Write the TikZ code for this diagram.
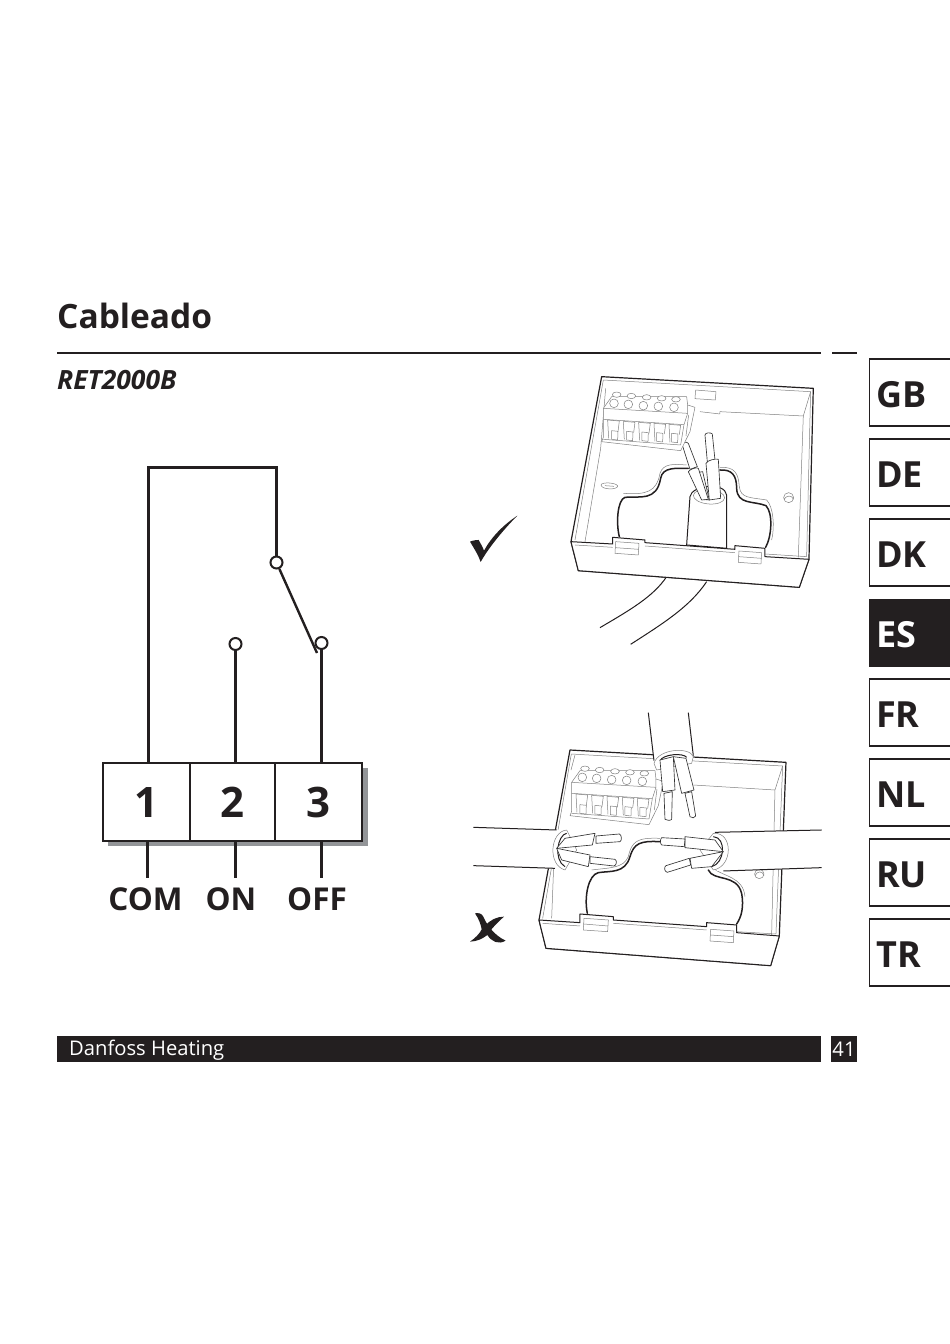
\documentclass[tikz,border=0pt]{standalone}
\usepackage{fontspec}
\setmainfont{Open Sans}
\usepackage{xcolor}
\definecolor{inkdark}{HTML}{231F20}
\definecolor{shadowgray}{HTML}{939598}
\tikzset{
  wireline/.style={inkdark,line width=2.4pt},
  tabline/.style={inkdark,line width=1.6pt},
  tablabel/.style={inkdark,font=\bfseries\fontsize{36}{36}\selectfont,anchor=west,inner sep=0pt},
  termbox/.style={draw=inkdark,line width=2.4pt,fill=white,minimum height=78pt,inner sep=0pt,text=inkdark,font=\bfseries\fontsize{42}{42}\selectfont},
  contact/.style={circle,draw=inkdark,line width=2pt,fill=white,minimum size=12pt,inner sep=0pt},
  outline/.style={inkdark,line width=1pt,line join=round},
  thinline/.style={black!50,line width=0.5pt,line join=round},
  holeline/.style={inkdark,line width=1.5pt,line cap=round},
  wirepart/.style={black!80,line width=0.65pt,fill=white,line join=round}
}
% same connector block in both boxes, written in crop coordinates
\newcommand{\termblock}{
\draw [thinline,fill=white] (430,145) -- (455,110) -- (680,110) -- (683,135) -- (705,142) -- (690,215) -- (662,272) -- (425,245) -- (430,232) -- cycle;
\draw [thinline,fill=white] (470,104) ellipse (13 and 8);
\draw [thinline,fill=white] (514,108) ellipse (13 and 8);
\draw [thinline,fill=white] (560,112) ellipse (13 and 8);
\draw [thinline,fill=white] (605,115) ellipse (13 and 8);
\draw [thinline,fill=white] (648,118) ellipse (13 and 8);
\draw [thinline] (462,130) circle (13);
\draw [thinline] (505,133) circle (13);
\draw [thinline] (550,137) circle (13);
\draw [thinline] (595,139) circle (13);
\draw [thinline] (642,142) circle (13);
\draw [thinline] (430,145) -- (683,160) -- (683,135);
\draw [thinline] (430,178) -- (672,194) -- (662,255) -- (430,238);
\draw [thinline] (683,160) -- (672,194);
\draw [thinline] (686,165) -- (678,228);
\draw [thinline] (443,180) -- (478,183) -- (474,215);
\draw [thinline] (443,180) -- (446,235);
\draw [thinline] (490,184) -- (525,187) -- (521,218);
\draw [thinline] (490,184) -- (493,238);
\draw [thinline] (536,187) -- (571,190) -- (567,220);
\draw [thinline] (536,187) -- (539,241);
\draw [thinline] (582,190) -- (617,193) -- (613,222);
\draw [thinline] (582,190) -- (585,244);
\draw [thinline] (627,193) -- (662,196) -- (658,224);
\draw [thinline] (627,193) -- (630,247);
\draw [thinline,fill=white] (455,212) -- (474,214) -- (473,240) -- (455,238) -- cycle;
\draw [thinline,fill=white] (500,214) -- (519,216) -- (518,242) -- (500,240) -- cycle;
\draw [thinline,fill=white] (546,216) -- (565,218) -- (564,244) -- (546,242) -- cycle;
\draw [thinline,fill=white] (590,218) -- (609,220) -- (608,246) -- (590,244) -- cycle;
\draw [thinline,fill=white] (635,220) -- (654,222) -- (653,248) -- (635,246) -- cycle;
}

\begin{document}
\begin{tikzpicture}[x=1pt,y=-1pt]
\useasboundingbox (0,0) rectangle (950,1344);
% page heading
\draw (57,316) node (heading) [anchor=west,inner sep=0pt,inkdark,font=\bfseries\fontsize{33.5}{33.5}\selectfont] {Cableado};
\draw [inkdark,line width=2pt] (57,352.5) -- (821,352.5);
\draw [inkdark,line width=2pt] (832,352.5) -- (857,352.5);
\draw (57,380) node (model) [anchor=west,inner sep=0pt,inkdark,font=\bfseries\itshape\fontsize{26.5}{26.5}\selectfont] {RET2000B};
% wiring scheme
\fill [shadowgray] (108,768) rectangle (367.5,845.5);
\node (t1) [termbox,minimum width=87pt] at (146.5,802) {1};
\node (t2) [termbox,minimum width=85pt] at (232.5,802) {2};
\node (t3) [termbox,minimum width=87pt] at (318.5,802) {3};
\node (comcontact) [contact] at (276.5,562.5) {};
\node (oncontact) [contact] at (235.5,644) {};
\node (offcontact) [contact] at (321.5,643) {};
\coordinate (topleft) at (148.5,467.5);
\coordinate (bladeend) at (317,653);
\coordinate (comend) at (147.5,877.5);
\coordinate (onend) at (235.5,877.5);
\coordinate (offend) at (321.5,877.5);
\draw [wireline] (comcontact) -- (comcontact |- topleft) -- (topleft) -- (topleft |- t1.north);
\draw [wireline] (comcontact) -- (bladeend);
\draw [wireline] (oncontact) -- (oncontact |- t2.north);
\draw [wireline] (offcontact) -- (offcontact |- t3.north);
\draw [wireline] (comend |- t1.south) -- (comend);
\draw [wireline] (onend |- t2.south) -- (onend);
\draw [wireline] (offend |- t3.south) -- (offend);
\node (comlabel) [inkdark,inner sep=0pt,font=\bfseries\fontsize{31.5}{31.5}\selectfont] at (145.5,899) {COM};
\node (onlabel) [inkdark,inner sep=0pt,font=\bfseries\fontsize{31.5}{31.5}\selectfont] at (231,899) {ON};
\node (offlabel) [inkdark,inner sep=0pt,font=\bfseries\fontsize{31.5}{31.5}\selectfont] at (317,899) {OFF};
% language tabs
\draw [tabline] (950,359) -- (869.5,359) -- (869.5,426) -- (950,426);
\draw (876,395) node (tabgb) [tablabel] {GB};
\draw [tabline] (950,439) -- (869.5,439) -- (869.5,506) -- (950,506);
\draw (876,475) node (tabde) [tablabel] {DE};
\draw [tabline] (950,519) -- (869.5,519) -- (869.5,586) -- (950,586);
\draw (876,555) node (tabdk) [tablabel] {DK};
\fill [inkdark] (869,599) rectangle (950,667);
\draw (876,635) node (tabes) [tablabel,text=white] {ES};
\draw [tabline] (950,679) -- (869.5,679) -- (869.5,746) -- (950,746);
\draw (876,715) node (tabfr) [tablabel] {FR};
\draw [tabline] (950,759) -- (869.5,759) -- (869.5,826) -- (950,826);
\draw (876,795) node (tabnl) [tablabel] {NL};
\draw [tabline] (950,839) -- (869.5,839) -- (869.5,906) -- (950,906);
\draw (876,875) node (tabru) [tablabel] {RU};
\draw [tabline] (950,919) -- (869.5,919) -- (869.5,986) -- (950,986);
\draw (876,955) node (tabtr) [tablabel] {TR};
% footer
\fill [inkdark] (57,1036) rectangle (821,1061.5);
\fill [inkdark] (831,1036) rectangle (857,1061.5);
\draw (69,1050) node (footer) [anchor=west,inner sep=0pt,text=white,font=\fontsize{20.2}{20.2}\selectfont] {Danfoss Heating};
\draw (844,1049.5) node (pagenum) [inner sep=0pt,text=white,font=\fontsize{20.2}{20.2}\selectfont] {41};
% correct entry
\begin{scope}[shift={(460pt,-360pt)},x=0.3333pt,y=-0.3333pt]
\draw [outline] (620,650) .. controls (580,710) and (510,750) .. (420,803);
\draw [outline] (740,665) .. controls (690,740) and (610,790) .. (512,853);
\draw [outline,fill=white,line width=1.2pt] (425,50) -- (1060,85) -- (1047,598) -- (1018,682) -- (355,632) -- (333,545) -- cycle;
\draw [thinline] (430,60) -- (1052,95) -- (1040,590);
\draw [thinline] (430,60) -- (345,540);
\draw [thinline] (1052,95) -- (1030,168) -- (1015,592);
\draw [thinline] (437,85) -- (422,265) -- (375,545);
\draw [thinline] (720,155) -- (780,162) -- (780,155) -- (1030,168);
\draw [thinline] (707,90) -- (768,95) -- (766,120) -- (705,116) -- cycle;
\draw [thinline] (423,375) .. controls (425,365) and (470,368) .. (473,378) .. controls (473,390) and (425,390) .. (423,375) -- cycle;
\draw [thinline] (435,377) -- (462,379);
\draw [thinline] (986,413) circle (15);
\draw [thinline] (972,418) .. controls (980,405) and (995,405) .. (1001,418);
\draw [thinline] (490,400) .. controls (560,405) and (590,395) .. (600,340) .. controls (610,310) and (640,312) .. (680,315);
\draw [thinline] (780,322) .. controls (825,320) and (835,340) .. (838,380) .. controls (842,415) and (870,412) .. (920,420) .. controls (940,440) and (945,500) .. (935,540);
\draw [holeline] (478,530) .. controls (468,490) and (472,420) .. (495,412) .. controls (540,408) and (590,425) .. (602,355) .. controls (608,320) and (650,325) .. (685,325);
\draw [holeline] (780,330) .. controls (815,328) and (830,345) .. (830,385) .. controls (832,435) and (880,422) .. (918,437) .. controls (940,460) and (935,530) .. (917,562);
% cable in the opening
\draw [outline,fill=white] (690,410) -- (680,555) -- (800,565) -- (800,405) .. controls (795,365) and (695,375) .. (690,410) -- cycle;
\draw [thinline,rotate around={-5:(747,410)}] (747,410) ellipse (47 and 22);
\draw [wirepart] (700,340) -- (725,418) -- (748,420) -- (728,335) -- cycle;
\draw [wirepart] (667,255) -- (690,328) -- (712,320) -- (685,250) .. controls (680,243) and (665,248) .. (667,255) -- cycle;
\draw [wirepart] (685,335) .. controls (690,328) and (710,320) .. (715,325) -- (745,418) -- (725,420) -- cycle;
\draw [wirepart] (735,225) -- (742,305) -- (765,300) -- (757,222) .. controls (752,216) and (735,218) .. (735,225) -- cycle;
\draw [wirepart] (738,310) .. controls (742,300) and (770,295) .. (775,298) -- (782,415) -- (748,420) -- cycle;
% front lip with its clips
\draw [outline,fill=white] (333,545) -- (458,552) -- (458,532) -- (555,540) -- (555,548) -- (825,568) -- (825,557) -- (915,565) -- (915,590) -- (1047,598) -- (1018,682) -- (355,632) -- cycle;
\draw [thinline] (345,555) -- (458,562);
\draw [thinline] (555,558) -- (825,578);
\draw [thinline] (915,582) -- (1040,590);
\draw [thinline,fill=white] (467,545) -- (537,550) -- (535,585) -- (465,580) -- cycle;
\draw [thinline] (466,563) -- (536,568);
\draw [thinline,fill=white] (837,573) -- (905,578) -- (903,612) -- (835,607) -- cycle;
\draw [thinline] (836,590) -- (904,595);
\termblock
% tick
\fill [inkdark] (30,545) .. controls (42,540) and (52,540) .. (56,540) .. controls (60,548) and (68,560) .. (72,572) .. controls (95,530) and (130,495) .. (172,467) .. controls (125,515) and (85,565) .. (62,606) .. controls (55,585) and (42,565) .. (30,545) -- cycle;
\end{scope}
% wrong entries
\begin{scope}[shift={(460pt,-700pt)},x=0.3333pt,y=-0.3333pt]
\draw [outline,fill=white,line width=1.2pt] (330,150) -- (978,187) -- (958,708) -- (932,797) -- (258,745) -- (237,660) -- cycle;
\draw [thinline] (334,162) -- (968,198) -- (948,702);
\draw [thinline] (334,162) -- (248,655);
\draw [thinline] (968,198) -- (945,270) -- (935,705);
\draw [thinline] (700,255) -- (945,270);
\draw [thinline] (285,395) -- (275,655);
\draw [thinline] (345,165) -- (333,210);
\draw [thinline] (898,522) circle (14);
\draw [thinline] (885,527) .. controls (892,512) and (908,512) .. (912,527);
\draw [thinline] (395,510) .. controls (450,503) and (490,505) .. (505,470) .. controls (515,425) and (530,412) .. (600,415);
\draw [thinline] (760,505) .. controls (790,530) and (850,530) .. (855,590);
\draw [holeline] (382,640) .. controls (372,590) and (385,525) .. (415,518) .. controls (450,512) and (495,522) .. (510,470) .. controls (522,430) and (540,422) .. (600,425);
\draw [holeline] (745,510) .. controls (760,545) and (830,520) .. (845,580) .. controls (852,620) and (845,650) .. (830,672);
\draw [outline,fill=white] (237,660) -- (360,668) -- (360,642) -- (460,650) -- (460,660) -- (740,680) -- (740,668) -- (830,675) -- (830,698) -- (958,708) -- (932,797) -- (258,745) -- cycle;
\draw [thinline] (248,670) -- (360,678);
\draw [thinline] (460,670) -- (740,690);
\draw [thinline] (830,695) -- (948,702);
\draw [thinline,fill=white] (372,655) -- (445,660) -- (443,695) -- (370,690) -- cycle;
\draw [thinline] (371,672) -- (444,678);
\draw [thinline,fill=white] (752,688) -- (822,693) -- (820,728) -- (750,723) -- cycle;
\draw [thinline] (751,705) -- (821,710);
\begin{scope}[shift={(-95,102)}]
\termblock
\end{scope}
% cable from above
\fill [white] (565,38) -- (685,38) -- (700,172) -- (582,190) -- cycle;
\draw [outline] (565,38) -- (582,182);
\draw [outline] (685,38) -- (700,167);
\draw [thinline,fill=white] (582,190) .. controls (595,145) and (690,140) .. (700,170) -- (695,190) -- (590,210) -- cycle;
\draw [outline] (600,182) .. controls (610,162) and (670,158) .. (680,172);
\draw [wirepart] (640,170) -- (665,280) -- (702,270) -- (678,175) -- cycle;
\draw [wirepart] (675,280) -- (690,350) .. controls (695,356) and (705,354) .. (707,348) -- (695,275) -- cycle;
\draw [wirepart] (600,180) -- (608,275) -- (645,270) -- (640,170) -- cycle;
\draw [wirepart] (612,280) -- (615,358) .. controls (620,362) and (632,362) .. (635,358) -- (637,275) -- cycle;
% cable from the left
\fill [white] (40,382) -- (310,390) -- (310,507) -- (40,497) -- cycle;
\draw [outline] (40,382) -- (290,390);
\draw [outline] (40,497) -- (285,505);
\draw [thinline,fill=white] (320,390) .. controls (270,395) and (262,495) .. (315,510) -- (350,450) -- cycle;
\draw [outline] (320,400) .. controls (292,405) and (280,480) .. (315,500);
\draw [wirepart] (315,415) -- (405,400) -- (397,435) -- (290,445) -- cycle;
\draw [wirepart] (408,408) -- (478,402) .. controls (486,405) and (486,422) .. (480,425) -- (408,430) -- cycle;
\draw [wirepart] (290,445) -- (390,465) -- (385,500) -- (305,480) -- cycle;
\draw [wirepart] (390,470) -- (465,478) .. controls (472,482) and (470,496) .. (462,498) -- (390,490) -- cycle;
% cable from the right
\fill [white] (1085,390) -- (770,397) -- (770,513) -- (1085,503) -- cycle;
\draw [outline] (1085,390) -- (765,397);
\draw [outline] (1085,503) -- (790,513);
\draw [thinline,fill=white] (760,400) .. controls (820,395) and (820,500) .. (760,510) -- (720,450) -- cycle;
\draw [outline] (760,410) .. controls (800,412) and (795,490) .. (755,500);
\draw [wirepart] (675,410) -- (765,420) -- (790,455) -- (675,443) -- cycle;
\draw [wirepart] (605,413) -- (675,417) -- (673,440) -- (605,435) .. controls (600,430) and (600,418) .. (605,413) -- cycle;
\draw [wirepart] (690,475) -- (790,455) -- (755,500) -- (695,505) -- cycle;
\draw [wirepart] (618,497) -- (688,475) -- (692,495) -- (622,517) .. controls (612,515) and (612,500) .. (618,497) -- cycle;
% cross
\fill [inkdark] (45,640) .. controls (55,638) and (65,640) .. (70,650) .. controls (78,670) and (100,705) .. (137,722) .. controls (115,735) and (95,725) .. (82,705) .. controls (70,715) and (50,725) .. (30,725) .. controls (45,715) and (60,700) .. (65,688) .. controls (62,670) and (55,655) .. (45,640) -- cycle;
\fill [inkdark] (75,678) .. controls (90,660) and (110,650) .. (132,650) .. controls (115,665) and (100,680) .. (85,700) -- cycle;
\end{scope}
\end{tikzpicture}
\end{document}
